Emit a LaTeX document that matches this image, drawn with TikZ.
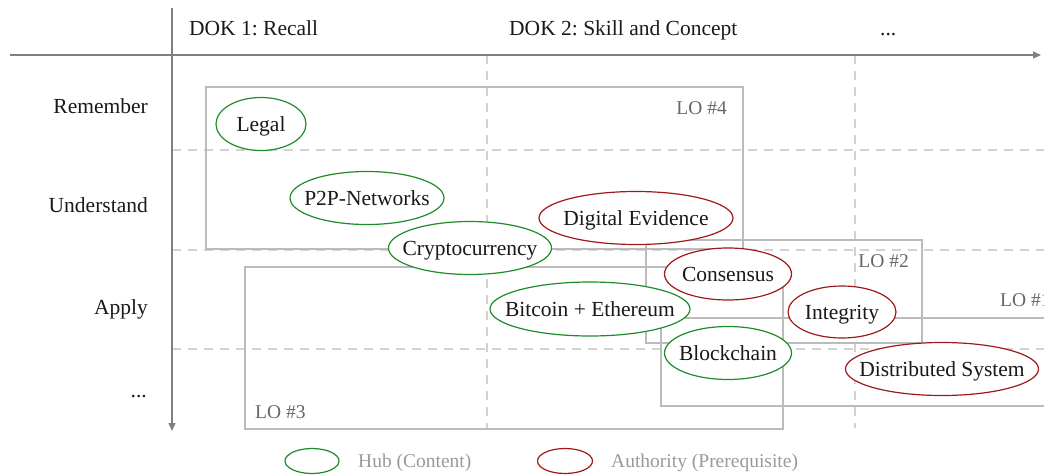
\documentclass[tikz,border=0pt]{standalone}
\usepackage{fontspec}
\setmainfont{Liberation Serif}
\frenchspacing
\usetikzlibrary{shapes.geometric,arrows.meta}
\definecolor{hubc}{HTML}{1E8C2A}
\definecolor{authc}{HTML}{9E1A1A}
\definecolor{axisc}{HTML}{808080}
\definecolor{gridc}{HTML}{D2D2D2}
\definecolor{boxc}{HTML}{BBBBBB}
\definecolor{loc}{HTML}{666666}
\definecolor{legc}{HTML}{999999}
\newcommand{\ctxt}[1]{\makebox[0pt]{\raisebox{-7.3pt}[0pt][0pt]{\fontsize{21.5}{24}\selectfont #1}}}
\begin{document}
\begin{tikzpicture}[x=1pt,y=-1pt,
  hub/.style={ellipse,draw=hubc,fill=white,line width=1.2pt,inner sep=0pt,text=black!90},
  auth/.style={ellipse,draw=authc,fill=white,line width=1.2pt,inner sep=0pt,text=black!90},
  lbl/.style={font=\fontsize{21.5}{24}\selectfont,text=black!90,inner sep=0pt},
  lobox/.style={draw=boxc,line width=2pt},
  lotext/.style={font=\fontsize{19.5}{22}\selectfont,text=loc,inner sep=0pt},
  legtext/.style={font=\fontsize{19.5}{22}\selectfont,text=legc,inner sep=0pt},
  gridline/.style={draw=gridc,line width=1.4pt,dash pattern=on 9pt off 7pt},
  axisline/.style={draw=axisc,line width=1.4pt,-{Triangle[length=8pt,width=7pt]}}]
\useasboundingbox (0,0) rectangle (1044,474);

% grid
\coordinate (g1a) at (172,150); \coordinate (g1b) at (1044,150);
\coordinate (g2a) at (172,250); \coordinate (g2b) at (1044,250);
\coordinate (g3a) at (172,349); \coordinate (g3b) at (1044,349);
\coordinate (v1a) at (487,55); \coordinate (v1b) at (487,428);
\coordinate (v2a) at (855,55); \coordinate (v2b) at (855,428);
\draw[gridline] (g1a) -- (g1b);
\draw[gridline] (g2a) -- (g2b);
\draw[gridline] (g3a) -- (g3b);
\draw[gridline] (v1a) -- (v1b);
\draw[gridline] (v2a) -- (v2b);

% axes
\coordinate (ya) at (172,8); \coordinate (yb) at (172,431);
\coordinate (xa) at (10,55); \coordinate (xb) at (1041,55);
\draw[axisline] (ya) -- (yb);
\draw[axisline] (xa) -- (xb);

% axis labels
\node[lbl,anchor=base west] (dok1) at (189,35) {DOK 1: Recall};
\node[lbl,anchor=base west] (dok2) at (509,35) {DOK 2: Skill and Concept};
\node[lbl,anchor=base west] (dokn) at (880,35) {...};
\node[lbl,anchor=base east] (rem) at (148,113) {Remember};
\node[lbl,anchor=base east] (und) at (148,212) {Understand};
\node[lbl,anchor=base east] (app) at (148,314) {Apply};
\node[lbl,anchor=base east] (more) at (147,397) {...};

% LO boxes
\draw[lobox] (206,87) rectangle (743,249);
\draw[lobox] (245,267) rectangle (783,429);
\draw[lobox] (646,240) rectangle (922,343);
\draw[lobox] (1050,318) -- (661,318) -- (661,406) -- (1050,406);
\node[lotext,anchor=base east] (lo4) at (727,114) {LO \#4};
\node[lotext,anchor=base east] (lo2) at (909,267) {LO \#2};
\node[lotext,anchor=base west] (lo1) at (1000,306) {LO \#1};
\node[lotext,anchor=base west] (lo3) at (255,418) {LO \#3};

% concepts
\node[hub,minimum width=90pt,minimum height=53pt] (legal) at (261,124) {\ctxt{Legal}};
\node[hub,minimum width=154pt,minimum height=53pt] (p2p) at (367,198) {\ctxt{P2P-Networks}};
\node[auth,minimum width=194pt,minimum height=53pt] (dig) at (636,218) {\ctxt{Digital Evidence}};
\node[hub,minimum width=163pt,minimum height=53pt] (crypto) at (470,248) {\ctxt{Cryptocurrency}};
\node[auth,minimum width=127pt,minimum height=52pt] (cons) at (728,274) {\ctxt{Consensus}};
\node[hub,minimum width=200pt,minimum height=54pt] (btc) at (590,309) {\ctxt{Bitcoin + Ethereum}};
\node[auth,minimum width=108pt,minimum height=52pt] (integ) at (842,312) {\ctxt{Integrity}};
\node[hub,minimum width=127pt,minimum height=53pt] (block) at (728,353) {\ctxt{Blockchain}};
\node[auth,minimum width=193pt,minimum height=53pt] (dist) at (942,369) {\ctxt{Distributed System}};

% legend
\node[hub,minimum width=54pt,minimum height=25pt] (leghub) at (312,461) {};
\node[legtext,anchor=base west] (leghubt) at (358,467) {Hub (Content)};
\node[auth,minimum width=55pt,minimum height=25pt] (legauth) at (565,461) {};
\node[legtext,anchor=base west] (legautht) at (611,467) {Authority (Prerequisite)};
\end{tikzpicture}
\end{document}
